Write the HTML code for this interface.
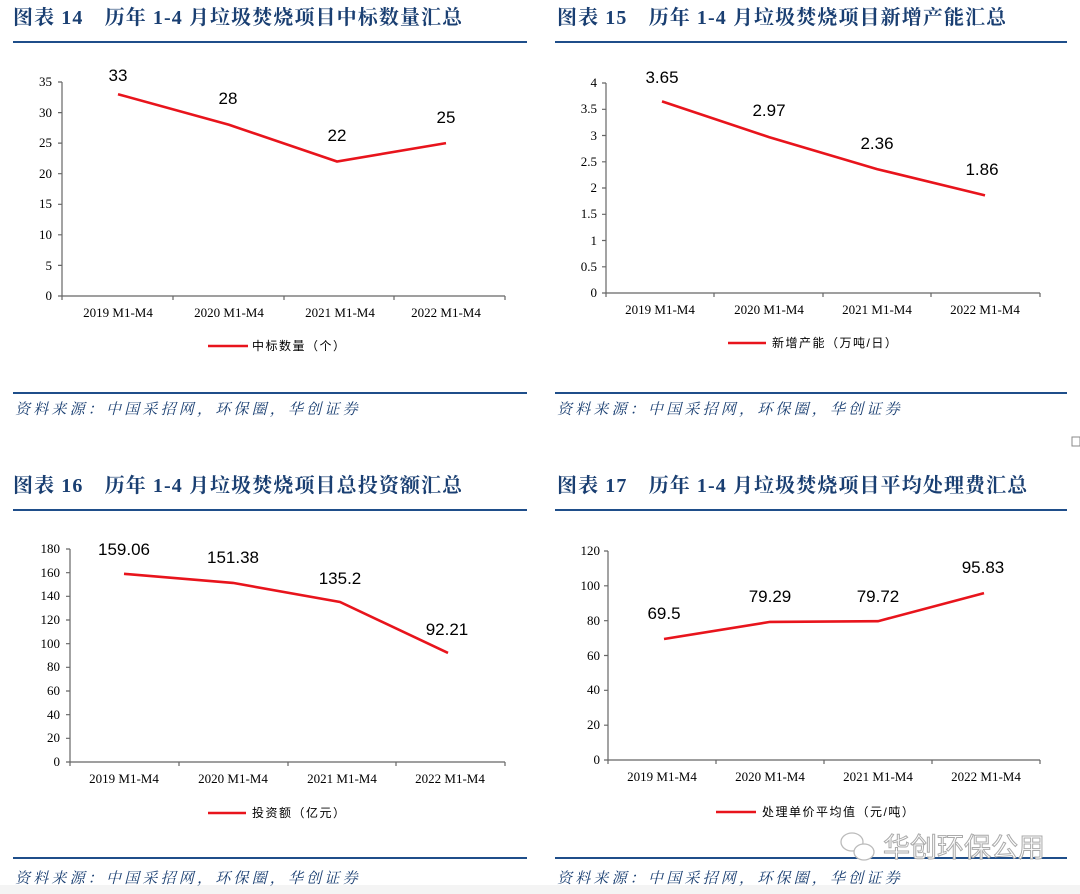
<!DOCTYPE html>
<html><head><meta charset="utf-8"><style>
body{margin:0;width:1080px;height:894px;background:#fff;overflow:hidden}
svg{display:block}
.t{font-family:"Liberation Serif","Noto Serif CJK SC",serif;font-weight:bold;font-size:20px;letter-spacing:1.1px;fill:#1a3f72}
.s{font-family:"Liberation Serif","Noto Serif CJK SC",serif;font-style:italic;font-size:15px;letter-spacing:3.2px;fill:#1a3f72}
.ax{font-family:"Liberation Serif",serif;font-size:13px;fill:#000}
.lg{font-family:"Liberation Sans","Noto Sans CJK SC",sans-serif;font-size:12px;letter-spacing:1.5px;fill:#000}
.dl{font-family:"Liberation Sans",sans-serif;font-size:17px;fill:#000;text-anchor:middle}
.r{stroke:#1f4e8a;stroke-width:2}
.a{stroke:#666;stroke-width:1.2;fill:none}
.ln{stroke:#e8141c;stroke-width:2.6;fill:none}
</style></head><body>
<svg width="1080" height="894" viewBox="0 0 1080 894">
<rect x="0" y="885" width="1080" height="9" fill="#f4f4f4"/>
<text class="t" x="13" y="24">图表 14　历年 1-4 月垃圾焚烧项目中标数量汇总</text>
<text class="t" x="557" y="24">图表 15　历年 1-4 月垃圾焚烧项目新增产能汇总</text>
<text class="t" x="13" y="492">图表 16　历年 1-4 月垃圾焚烧项目总投资额汇总</text>
<text class="t" x="557" y="492">图表 17　历年 1-4 月垃圾焚烧项目平均处理费汇总</text>
<line class="r" x1="13" y1="42" x2="527" y2="42"/>
<line class="r" x1="555" y1="42" x2="1067" y2="42"/>
<line class="r" x1="13" y1="510" x2="527" y2="510"/>
<line class="r" x1="555" y1="510" x2="1067" y2="510"/>
<line class="r" x1="13" y1="393" x2="527" y2="393"/>
<line class="r" x1="555" y1="393" x2="1067" y2="393"/>
<line class="r" x1="13" y1="858" x2="527" y2="858"/>
<line class="r" x1="555" y1="858" x2="1067" y2="858"/>
<text class="s" x="15" y="414">资料来源：中国采招网，环保圈，华创证券</text>
<text class="s" x="557" y="414">资料来源：中国采招网，环保圈，华创证券</text>
<text class="s" x="15" y="883">资料来源：中国采招网，环保圈，华创证券</text>
<text class="s" x="557" y="883">资料来源：中国采招网，环保圈，华创证券</text>

<g class="a">
<path d="M62 82V296H505"/>
<path d="M58 82H62M58 112.6H62M58 143.1H62M58 173.7H62M58 204.3H62M58 234.8H62M58 265.4H62M58 296H62"/>
<path d="M173 296V300M284 296V300M394 296V300M505 296V300M62 296V300"/>
</g>
<g class="ax" text-anchor="end">
<text x="52" y="86">35</text><text x="52" y="117">30</text><text x="52" y="147">25</text><text x="52" y="178">20</text><text x="52" y="208">15</text><text x="52" y="239">10</text><text x="52" y="270">5</text><text x="52" y="300">0</text>
</g>
<g class="ax" text-anchor="middle">
<text x="118" y="317">2019 M1-M4</text><text x="229" y="317">2020 M1-M4</text><text x="340" y="317">2021 M1-M4</text><text x="446" y="317">2022 M1-M4</text>
</g>
<polyline class="ln" points="118,94.2 229,124.8 337,161.5 446,143.1"/>
<text class="dl" x="118" y="81">33</text><text class="dl" x="228" y="104">28</text><text class="dl" x="337" y="141">22</text><text class="dl" x="446" y="123">25</text>
<line x1="208" y1="346" x2="248" y2="346" stroke="#e8141c" stroke-width="2.6"/>
<text class="lg" x="252" y="350">中标数量（个）</text>

<g class="a">
<path d="M606 83V293H1040"/>
<path d="M602 83H606M602 109.3H606M602 135.5H606M602 161.8H606M602 188H606M602 214.3H606M602 240.5H606M602 266.8H606M602 293H606"/>
<path d="M606 293V297M714 293V297M823 293V297M931 293V297M1040 293V297"/>
</g>
<g class="ax" text-anchor="end">
<text x="597" y="87">4</text><text x="597" y="113">3.5</text><text x="597" y="140">3</text><text x="597" y="166">2.5</text><text x="597" y="192">2</text><text x="597" y="218">1.5</text><text x="597" y="245">1</text><text x="597" y="271">0.5</text><text x="597" y="297">0</text>
</g>
<g class="ax" text-anchor="middle">
<text x="660" y="314">2019 M1-M4</text><text x="769" y="314">2020 M1-M4</text><text x="877" y="314">2021 M1-M4</text><text x="985" y="314">2022 M1-M4</text>
</g>
<polyline class="ln" points="662,101.4 769,137.1 877,169.1 985,195.4"/>
<text class="dl" x="662" y="83">3.65</text><text class="dl" x="769" y="116">2.97</text><text class="dl" x="877" y="149">2.36</text><text class="dl" x="982" y="175">1.86</text>
<line x1="728" y1="343" x2="766" y2="343" stroke="#e8141c" stroke-width="2.6"/>
<text class="lg" x="772" y="347">新增产能（万吨/日）</text>

<g class="a">
<path d="M70 549V762H505"/>
<path d="M66 549H70M66 572.7H70M66 596.3H70M66 620H70M66 643.7H70M66 667.3H70M66 691H70M66 714.7H70M66 738.3H70M66 762H70"/>
<path d="M70 762V766M179 762V766M288 762V766M396 762V766M505 762V766"/>
</g>
<g class="ax" text-anchor="end">
<text x="60" y="553">180</text><text x="60" y="577">160</text><text x="60" y="600">140</text><text x="60" y="624">120</text><text x="60" y="648">100</text><text x="60" y="671">80</text><text x="60" y="695">60</text><text x="60" y="719">40</text><text x="60" y="742">20</text><text x="60" y="766">0</text>
</g>
<g class="ax" text-anchor="middle">
<text x="124" y="783">2019 M1-M4</text><text x="233" y="783">2020 M1-M4</text><text x="342" y="783">2021 M1-M4</text><text x="450" y="783">2022 M1-M4</text>
</g>
<polyline class="ln" points="124,573.8 233,582.9 340,602 448,652.9"/>
<text class="dl" x="124" y="555">159.06</text><text class="dl" x="233" y="563">151.38</text><text class="dl" x="340" y="584">135.2</text><text class="dl" x="447" y="635">92.21</text>
<line x1="208" y1="813" x2="246" y2="813" stroke="#e8141c" stroke-width="2.6"/>
<text class="lg" x="252" y="817">投资额（亿元）</text>

<g class="a">
<path d="M608 551V760H1040"/>
<path d="M604 551H608M604 585.8H608M604 620.7H608M604 655.5H608M604 690.3H608M604 725.2H608M604 760H608"/>
<path d="M608 760V764M716 760V764M824 760V764M932 760V764M1040 760V764"/>
</g>
<g class="ax" text-anchor="end">
<text x="600" y="555">120</text><text x="600" y="590">100</text><text x="600" y="625">80</text><text x="600" y="660">60</text><text x="600" y="694">40</text><text x="600" y="729">20</text><text x="600" y="764">0</text>
</g>
<g class="ax" text-anchor="middle">
<text x="662" y="781">2019 M1-M4</text><text x="770" y="781">2020 M1-M4</text><text x="878" y="781">2021 M1-M4</text><text x="986" y="781">2022 M1-M4</text>
</g>
<polyline class="ln" points="664,639 770,621.9 878,621.2 984,593.1"/>
<text class="dl" x="664" y="619">69.5</text><text class="dl" x="770" y="602">79.29</text><text class="dl" x="878" y="602">79.72</text><text class="dl" x="983" y="573">95.83</text>
<line x1="716" y1="812" x2="756" y2="812" stroke="#e8141c" stroke-width="2.6"/>
<text class="lg" x="762" y="816">处理单价平均值（元/吨）</text>

<g stroke="#bbb" fill="#fff" stroke-width="1.3">
<ellipse cx="852" cy="842" rx="11" ry="9"/>
<ellipse cx="864" cy="852" rx="10" ry="8"/>
</g>
<text x="883" y="857" font-family="Liberation Sans,Noto Sans CJK SC,sans-serif" font-size="27" fill="#fff" stroke="#aaa" stroke-width="1">华创环保公用</text>
<rect x="1072" y="437" width="8" height="9" fill="none" stroke="#888"/>
</svg>
</body></html>
